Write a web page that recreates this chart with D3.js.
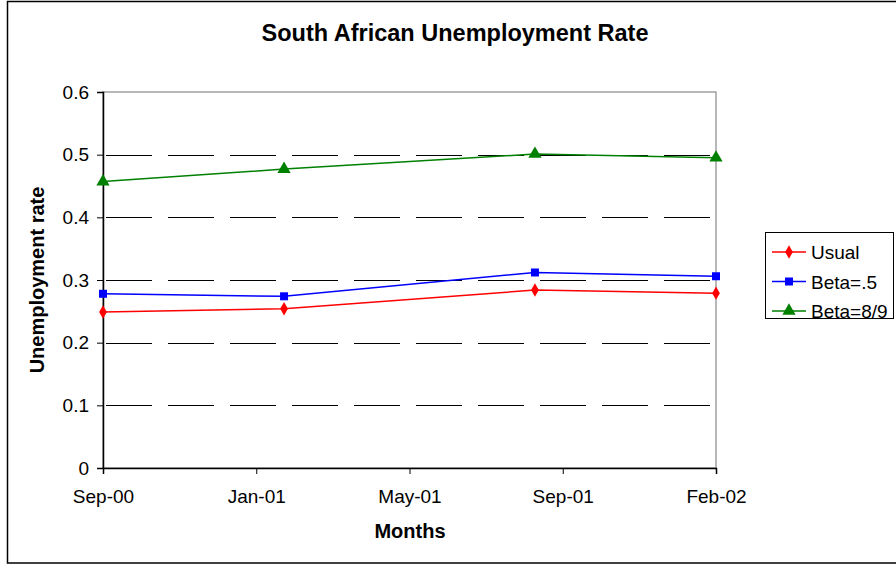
<!DOCTYPE html>
<html>
<head>
<meta charset="utf-8">
<script src="https://cdn.jsdelivr.net/npm/d3@7"></script>
<style>
  html, body { margin: 0; padding: 0; background: #fff; }
  svg { display: block; font-family: "Liberation Sans", Arial, sans-serif; }
</style>
</head>
<body>
<svg id="chart" width="896" height="565"></svg>
<script>
// ---- Data ----
const surveyDates = ["2000-09-01", "2001-02-01", "2001-09-01", "2002-02-01"];
const seriesNames = ["Usual", "Beta=.5", "Beta=8/9"];
const usualValues = [0.249, 0.254, 0.284, 0.279];
const beta5Values = [0.278, 0.274, 0.312, 0.306];
const beta89Values = [0.457, 0.477, 0.501, 0.495];
const xTickLabels = ["Sep-00", "Jan-01", "May-01", "Sep-01", "Feb-02"];
const yTickValues = [0, 0.1, 0.2, 0.3, 0.4, 0.5, 0.6];

const parse = d3.timeParse("%Y-%m-%d");
const dates = surveyDates.map(parse);

const series = [
  { name: seriesNames[0], values: usualValues, color: "#ff0000", symbol: d3.symbolDiamond, size: 52 },
  { name: seriesNames[1], values: beta5Values, color: "#0000ff", symbol: d3.symbolSquare, size: 64 },
  { name: seriesNames[2], values: beta89Values, color: "#008000", symbol: d3.symbolTriangle, size: 76 }
];

const svg = d3.select("#chart");
const plot = { left: 103, right: 716, top: 92, bottom: 468 };
const FONT = "Liberation Sans, Arial, sans-serif";

// outer border
svg.append("rect").attr("x", 7.5).attr("y", 1.5).attr("width", 896).attr("height", 561.5)
  .attr("fill", "#fff").attr("stroke", "#000").attr("stroke-width", 1.5);

const x = d3.scaleTime().domain([dates[0], dates[dates.length - 1]]).range([plot.left, plot.right]);
const y = d3.scaleLinear().domain([0, 0.6]).range([plot.bottom, plot.top]);

// x tick dates evenly across the domain
const t0 = dates[0].getTime(), t1 = dates[dates.length - 1].getTime();
const xTickDates = xTickLabels.map((_, i) => new Date(t0 + (t1 - t0) * i / (xTickLabels.length - 1)));

// plot area gray border (top & right)
svg.append("rect").attr("x", plot.left).attr("y", plot.top)
  .attr("width", plot.right - plot.left).attr("height", plot.bottom - plot.top)
  .attr("fill", "none").attr("stroke", "#a0a0a0").attr("stroke-width", 1.5);

// dashed gridlines
svg.append("g").selectAll("line").data(yTickValues.filter(v => v > 0 && v < 0.6)).join("line")
  .attr("x1", plot.left + 3).attr("x2", plot.right - 3)
  .attr("y1", d => Math.round(y(d)) + 0.5).attr("y2", d => Math.round(y(d)) + 0.5)
  .attr("stroke", "#000").attr("stroke-width", 1)
  .attr("stroke-dasharray", "46,16");

// y axis
const yAxis = d3.axisLeft(y).tickValues(yTickValues).tickSize(6).tickPadding(8)
  .tickFormat(d => d === 0 ? "0" : d.toFixed(1));
const gy = svg.append("g").attr("transform", `translate(${plot.left},0)`).call(yAxis);
gy.select(".domain").attr("stroke", "#000").attr("stroke-width", 1.5);
gy.selectAll(".tick line").attr("stroke", "#000");
gy.selectAll(".tick text").attr("font-size", 19).attr("fill", "#000").attr("font-family", FONT);

// x axis
const xAxis = d3.axisBottom(x).tickValues(xTickDates).tickSize(6).tickPadding(16)
  .tickFormat((d, i) => xTickLabels[i]);
const gx = svg.append("g").attr("transform", `translate(0,${plot.bottom})`).call(xAxis);
gx.select(".domain").attr("stroke", "#000").attr("stroke-width", 1.5);
gx.selectAll(".tick line").attr("stroke", "#000");
gx.selectAll(".tick text").attr("font-size", 19).attr("fill", "#000").attr("font-family", FONT);

// lines and markers
const line = d3.line().x((d, i) => x(dates[i])).y(d => y(d));
series.forEach(s => {
  svg.append("path").datum(s.values).attr("d", line)
    .attr("fill", "none").attr("stroke", s.color).attr("stroke-width", 1.5);
  svg.append("g").selectAll("path").data(s.values).join("path")
    .attr("transform", (d, i) => `translate(${x(dates[i])},${y(d)})`)
    .attr("d", d3.symbol().type(s.symbol).size(s.size))
    .attr("fill", s.color);
});

// title
svg.append("text").attr("x", 455).attr("y", 41).attr("text-anchor", "middle")
  .attr("font-size", 23.5).attr("font-weight", "bold").text("South African Unemployment Rate");

// axis titles
svg.append("text").attr("x", 410).attr("y", 538).attr("text-anchor", "middle")
  .attr("font-size", 20).attr("font-weight", "bold").text("Months");
svg.append("text").attr("transform", "translate(44,280) rotate(-90)").attr("text-anchor", "middle")
  .attr("font-size", 20).attr("font-weight", "bold").text("Unemployment rate");

// legend
const lg = svg.append("g");
lg.append("rect").attr("x", 765.5).attr("y", 232.5).attr("width", 128).attr("height", 86)
  .attr("fill", "#fff").attr("stroke", "#000").attr("stroke-width", 1);
series.forEach((s, i) => {
  const cy = 252 + i * 29.5;
  lg.append("line").attr("x1", 772).attr("x2", 806).attr("y1", cy).attr("y2", cy)
    .attr("stroke", s.color).attr("stroke-width", 1.5);
  lg.append("path").attr("transform", `translate(789,${cy})`)
    .attr("d", d3.symbol().type(s.symbol).size(s.size)).attr("fill", s.color);
  lg.append("text").attr("x", 811).attr("y", cy + 7).attr("font-size", 19).text(s.name);
});
</script>
</body>
</html>
